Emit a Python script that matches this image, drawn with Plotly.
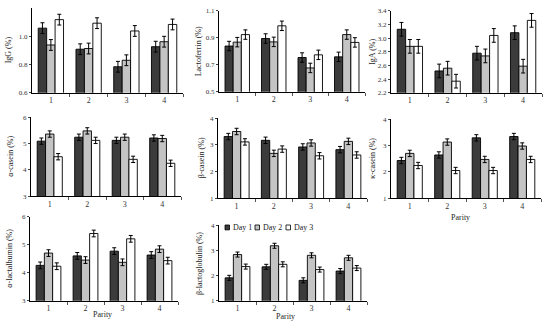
import plotly.graph_objects as go

W, H = 548, 330

parity = [1, 2, 3, 4]
days = ["Day 1", "Day 2", "Day 3"]

igg_d1 = [1.057, 0.908, 0.784, 0.926]
igg_d2 = [0.938, 0.913, 0.830, 0.961]
igg_d3 = [1.117, 1.092, 1.037, 1.083]
igg_err = [0.038, 0.038, 0.038, 0.038]

lf_d1 = [0.839, 0.895, 0.754, 0.759]
lf_d2 = [0.868, 0.870, 0.677, 0.924]
lf_d3 = [0.924, 0.989, 0.774, 0.866]
lf_err = [0.035, 0.035, 0.035, 0.035]

iga_d1 = [3.13, 2.52, 2.78, 3.08]
iga_d2 = [2.88, 2.56, 2.74, 2.59]
iga_d3 = [2.88, 2.37, 3.04, 3.26]
iga_err = [0.10, 0.10, 0.10, 0.10]

acas_d1 = [5.09, 5.24, 5.12, 5.21]
acas_d2 = [5.36, 5.48, 5.24, 5.19]
acas_d3 = [4.50, 5.12, 4.40, 4.25]
acas_err = [0.12, 0.12, 0.12, 0.12]

bcas_d1 = [3.31, 3.17, 2.92, 2.82]
bcas_d2 = [3.50, 2.68, 3.07, 3.13]
bcas_d3 = [3.11, 2.84, 2.59, 2.62]
bcas_err = [0.12, 0.12, 0.12, 0.12]

kcas_d1 = [2.43, 2.64, 3.29, 3.34]
kcas_d2 = [2.70, 3.13, 2.47, 2.98]
kcas_d3 = [2.24, 2.05, 2.05, 2.47]
kcas_err = [0.12, 0.12, 0.12, 0.12]

alac_d1 = [4.26, 4.60, 4.77, 4.63]
alac_d2 = [4.70, 4.45, 4.37, 4.84]
alac_d3 = [4.23, 5.40, 5.21, 4.43]
alac_err = [0.12, 0.12, 0.12, 0.12]

blg_d1 = [1.91, 2.35, 1.81, 2.18]
blg_d2 = [2.84, 3.19, 2.81, 2.71]
blg_d3 = [2.36, 2.45, 2.24, 2.30]
blg_err = [0.10, 0.10, 0.10, 0.10]

panels = [
    dict(label="IgG (%)", data=[igg_d1, igg_d2, igg_d3], err=igg_err,
         yr=[0.6, 1.2], tv=[0.6, 0.8, 1.0], tt=["0.6", "0.8", "1.0"],
         px=(32, 183), py=(91, 4), lx=8),
    dict(label="Lactoferrin (%)", data=[lf_d1, lf_d2, lf_d3], err=lf_err,
         yr=[0.5, 1.1], tv=[0.5, 0.7, 0.9, 1.1], tt=["0.5", "0.7", "0.9", "1.1"],
         px=(219, 365), py=(90, 7), lx=198),
    dict(label="IgA (%)", data=[iga_d1, iga_d2, iga_d3], err=iga_err,
         yr=[2.2, 3.4], tv=[2.2, 2.4, 2.6, 2.8, 3.0, 3.2, 3.4],
         tt=["2.2", "2.4", "2.6", "2.8", "3.0", "3.2", "3.4"],
         px=(391, 542), py=(91, 7), lx=373),
    dict(label="α-casein (%)", data=[acas_d1, acas_d2, acas_d3], err=acas_err,
         yr=[3, 6], tv=[3, 4, 5, 6], tt=["3", "4", "5", "6"],
         px=(31, 181), py=(197, 116), lx=11),
    dict(label="β-casein (%)", data=[bcas_d1, bcas_d2, bcas_d3], err=bcas_err,
         yr=[1, 4], tv=[1, 2, 3, 4], tt=["1", "2", "3", "4"],
         px=(218, 367), py=(199, 117), lx=201),
    dict(label="κ-casein (%)", data=[kcas_d1, kcas_d2, kcas_d3], err=kcas_err,
         yr=[1, 4], tv=[1, 2, 3, 4], tt=["1", "2", "3", "4"],
         px=(391, 541), py=(199, 118), lx=373),
    dict(label="α-lactalbumin (%)", data=[alac_d1, alac_d2, alac_d3], err=alac_err,
         yr=[3, 6], tv=[3, 4, 5, 6], tt=["3", "4", "5", "6"],
         px=(30, 178), py=(304, 218), lx=10),
    dict(label="β-lactoglobulin (%)", data=[blg_d1, blg_d2, blg_d3], err=blg_err,
         yr=[1, 4], tv=[1, 2, 3, 4], tt=["1", "2", "3", "4"],
         px=(219, 367), py=(304, 227), lx=199),
]

fills = ["#3b3b3b", "#c4c4c4", "#ffffff"]
FONT = "Liberation Serif"

fig = go.Figure()
layout = {}
annotations = []
shapes = []

for i, p in enumerate(panels):
    n = "" if i == 0 else str(i + 1)
    xa, ya = "x" + n, "y" + n
    for d in range(3):
        fig.add_trace(go.Bar(
            x=parity, y=p["data"][d], name=days[d],
            xaxis=xa, yaxis=ya, offsetgroup=str(d),
            marker=dict(color=fills[d], line=dict(color="#000000", width=0.9)),
            error_y=dict(type="data", array=p["err"], color="#000000",
                         thickness=1, width=2),
            showlegend=False,
        ))
    x0, x1 = p["px"]
    yb, yt = p["py"]
    layout["xaxis" + n] = dict(
        domain=[x0 / W, x1 / W], anchor=ya, range=[0.5, 4.5],
        tickvals=parity, ticktext=["1", "2", "3", "4"], ticks="",
        showline=True, linecolor="#000000", linewidth=1, showgrid=False,
        zeroline=False, tickfont=dict(family=FONT, size=8, color="#333333"),
        minor=dict(tickvals=[1.5, 2.5, 3.5, 4.5], ticks="outside",
                   ticklen=3, tickcolor="#555555"),
        fixedrange=True,
    )
    layout["yaxis" + n] = dict(
        domain=[1 - yb / H, 1 - yt / H], anchor=xa, range=p["yr"],
        tickvals=p["tv"], ticktext=p["tt"], ticks="outside", ticklen=2,
        showline=True, linecolor="#000000", linewidth=1, showgrid=False,
        zeroline=False, tickfont=dict(family=FONT, size=7, color="#333333"),
        fixedrange=True,
    )
    annotations.append(dict(
        text=p["label"], xref="paper", yref="paper", x=p["lx"] / W,
        y=1 - (yb + yt) / 2 / H, textangle=-90, showarrow=False,
        xanchor="center", yanchor="middle",
        font=dict(family=FONT, size=8, color="#222222"),
    ))

for (ax, ay) in [(460, 219), (102, 318), (285, 320)]:
    annotations.append(dict(
        text="Parity", xref="paper", yref="paper", x=ax / W, y=1 - ay / H,
        showarrow=False, xanchor="center", yanchor="middle",
        font=dict(family=FONT, size=8, color="#222222"),
    ))

# compact legend (swatches + labels) inside the beta-lactoglobulin panel
leg_x = [225, 255, 286]
leg_y = 229
for d in range(3):
    sx = leg_x[d]
    shapes.append(dict(
        type="rect", xref="paper", yref="paper",
        x0=sx / W, x1=(sx + 4.5) / W,
        y0=1 - (leg_y + 2.5) / H, y1=1 - (leg_y - 2.5) / H,
        fillcolor=fills[d], line=dict(color="#000000", width=0.8),
    ))
    annotations.append(dict(
        text=days[d], xref="paper", yref="paper", x=(sx + 6) / W,
        y=1 - leg_y / H, showarrow=False, xanchor="left", yanchor="middle",
        font=dict(family=FONT, size=8, color="#222222"),
    ))

fig.update_layout(
    **layout,
    annotations=annotations,
    shapes=shapes,
    width=W, height=H,
    margin=dict(l=0, r=0, t=0, b=0),
    paper_bgcolor="#ffffff", plot_bgcolor="#ffffff",
    barmode="group", bargap=0.33, bargroupgap=0,
    showlegend=False,
)

fig.write_html("out.html")
